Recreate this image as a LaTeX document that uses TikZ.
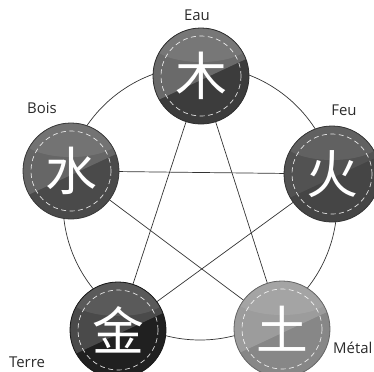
\documentclass[tikz,border=0pt]{standalone}
\usepackage{fontspec}
\setmainfont{Open Sans}
\newfontfamily\cjk{Noto Sans CJK SC}
\usetikzlibrary{backgrounds}
\definecolor{tL}{HTML}{6A6A6A}\definecolor{tD}{HTML}{3C3C3C}
\definecolor{lL}{HTML}{666666}\definecolor{lD}{HTML}{4A4A4A}
\definecolor{rL}{HTML}{525252}\definecolor{rD}{HTML}{454545}
\definecolor{aL}{HTML}{4A4A4A}\definecolor{aD}{HTML}{202020}
\definecolor{bL}{HTML}{9C9C9C}\definecolor{bD}{HTML}{878787}
\definecolor{linkc}{HTML}{333333}
\definecolor{labc}{HTML}{2A2A2A}
\newcommand\wxball[3]{%
  \begin{scope}[shift={(#1)}]
    \begin{scope}
      \clip (0,0) circle (48bp);
      \fill[#3] (-60,-60) rectangle (60,60);
      \fill[#2] (-60,32) -- (60,-24) -- (60,-60) -- (-60,-60) -- cycle;
      \fill[white, opacity=0.09] (0,-34) ellipse [x radius=50bp, y radius=20bp];
    \end{scope}
    \draw[#3!75!black, line width=0.8bp] (0,0) circle (48bp);
    \draw[white, opacity=0.85, line width=0.7bp, dash pattern=on 5bp off 3.5bp] (0,0) circle (40bp);
  \end{scope}}
\begin{document}
\begin{tikzpicture}[x=1bp,y=-1bp,
  link/.style={draw=linkc, line width=0.7bp},
  lab/.style={font=\fontsize{15}{15}\selectfont, text=labc, inner sep=0},
  elem/.style={circle, minimum size=96bp, inner sep=0, text=white,
    font=\cjk\fontsize{52}{52}\selectfont}]
\useasboundingbox (0,0) rectangle (374,372);
\coordinate (peau) at (201,76);
\coordinate (pbois) at (71,171);
\coordinate (pfeu) at (332,174);
\coordinate (pterre) at (118,330);
\coordinate (pmetal) at (282,329);
\wxball{peau}{tL}{tD}
\wxball{pbois}{lL}{lD}
\wxball{pfeu}{rL}{rD}
\wxball{pterre}{aL}{aD}
\wxball{pmetal}{bL}{bD}
\node[elem] (eau) at (peau) {木};
\node[elem] (bois) at (pbois) {水};
\node[elem] (feu) at (pfeu) {火};
\node[elem] (terre) at (pterre) {金};
\node[elem] (metal) at (pmetal) {土};
\coordinate (o) at (200,203);
\begin{scope}[on background layer]
  \draw[link] (o) circle (137bp);
  \draw[link] (eau.center) -- (terre.center);
  \draw[link] (eau.center) -- (metal.center);
  \draw[link] (bois.center) -- (feu.center);
  \draw[link] (bois.center) -- (metal.center);
  \draw[link] (feu.center) -- (terre.center);
\end{scope}
\node[lab] (leau) at (197,15) {Eau};
\node[lab] (lbois) at (42,108) {Bois};
\node[lab] (lfeu) at (344,110) {Feu};
\node[lab] (lterre) at (27,362) {Terre};
\node[lab, anchor=west] (lmetal) at (333,348) {Métal};
\end{tikzpicture}
\end{document}
